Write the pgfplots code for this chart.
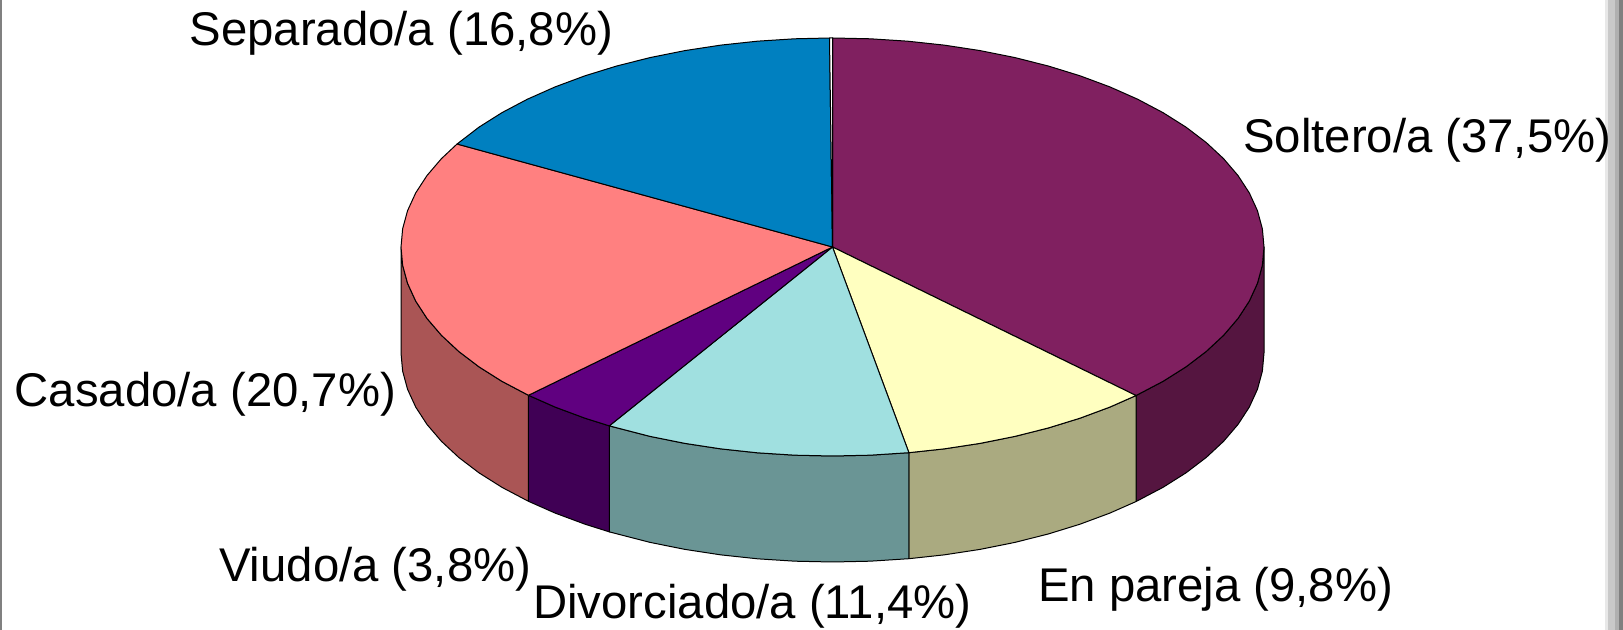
\documentclass[border=0pt]{standalone}
\usepackage{pgfplots}
\pgfplotsset{compat=1.18}
\usepackage{fontspec}
\setmainfont{Liberation Sans}
\definecolor{cSol}{RGB}{128,32,96}
\definecolor{cSolD}{RGB}{85,21,64}
\definecolor{cPar}{RGB}{255,255,192}
\definecolor{cParD}{RGB}{170,170,128}
\definecolor{cDiv}{RGB}{160,224,224}
\definecolor{cDivD}{RGB}{106,149,149}
\definecolor{cViu}{RGB}{96,0,128}
\definecolor{cViuD}{RGB}{64,0,85}
\definecolor{cCas}{RGB}{255,128,128}
\definecolor{cCasD}{RGB}{170,85,85}
\definecolor{cSep}{RGB}{0,128,192}
\newcommand\depth{0.5072}
\newcommand\lbl[3]{\node[anchor=base west,inner sep=0pt,font=\fontsize{47.3}{47.3}\selectfont] at (axis cs:{(#1-832.5)/431.5},{(247-#2)/209}) {#3};}
\newcommand\strip[3]{\fill[#3] (axis cs:{(#1-832.5)/431.5},{247/209}) rectangle (axis cs:{(#2-832.5)/431.5},{(247-630)/209});}
\begin{document}
\begin{tikzpicture}
\begin{axis}[
  scale only axis, width=1623pt, height=630pt,
  xmin=-1.92932, xmax=1.83198, ymin=-1.83254, ymax=1.18182,
  hide axis, clip=false,
  every axis plot/.append style={draw=black, line width=1pt, line join=round}
]
% side faces: x, y on the unit circle, b=1 on the lower rim
\addplot[fill=cSolD] table[x=x, y expr=\thisrow{y}-\depth*\thisrow{b}] {
x y b
1 0 0
.99619 -.08716 0
.98481 -.17365 0
.96593 -.25882 0
.93969 -.34202 0
.90631 -.42262 0
.86603 -.5 0
.81915 -.57358 0
.76604 -.64279 0
.7034 -.7108 0
.7034 -.7108 1
.76604 -.64279 1
.81915 -.57358 1
.86603 -.5 1
.90631 -.42262 1
.93969 -.34202 1
.96593 -.25882 1
.98481 -.17365 1
.99619 -.08716 1
1 0 1
} --cycle;
\addplot[fill=cParD] table[x=x, y expr=\thisrow{y}-\depth*\thisrow{b}] {
x y b
.7034 -.7108 0
.64279 -.76604 0
.57358 -.81915 0
.5 -.86603 0
.42262 -.90631 0
.34202 -.93969 0
.25882 -.96593 0
.1771 -.9842 0
.1771 -.9842 1
.25882 -.96593 1
.34202 -.93969 1
.42262 -.90631 1
.5 -.86603 1
.57358 -.81915 1
.64279 -.76604 1
.7034 -.7108 1
} --cycle;
\addplot[fill=cDivD] table[x=x, y expr=\thisrow{y}-\depth*\thisrow{b}] {
x y b
.1771 -.9842 0
.08716 -.99619 0
0 -1 0
-.08716 -.99619 0
-.17365 -.98481 0
-.25882 -.96593 0
-.34202 -.93969 0
-.42262 -.90631 0
-.5172 -.8559 0
-.5172 -.8559 1
-.42262 -.90631 1
-.34202 -.93969 1
-.25882 -.96593 1
-.17365 -.98481 1
-.08716 -.99619 1
0 -1 1
.08716 -.99619 1
.1771 -.9842 1
} --cycle;
\addplot[fill=cViuD] table[x=x, y expr=\thisrow{y}-\depth*\thisrow{b}] {
x y b
-.5172 -.8559 0
-.57358 -.81915 0
-.64279 -.76604 0
-.7046 -.7096 0
-.7046 -.7096 1
-.64279 -.76604 1
-.57358 -.81915 1
-.5172 -.8559 1
} --cycle;
\addplot[fill=cCasD] table[x=x, y expr=\thisrow{y}-\depth*\thisrow{b}] {
x y b
-.7046 -.7096 0
-.76604 -.64279 0
-.81915 -.57358 0
-.86603 -.5 0
-.90631 -.42262 0
-.93969 -.34202 0
-.96593 -.25882 0
-.98481 -.17365 0
-.99619 -.08716 0
-1 0 0
-1 0 1
-.99619 -.08716 1
-.98481 -.17365 1
-.96593 -.25882 1
-.93969 -.34202 1
-.90631 -.42262 1
-.86603 -.5 1
-.81915 -.57358 1
-.76604 -.64279 1
-.7046 -.7096 1
} --cycle;
% top slices: (angle, radius); angles, matching the shares 37.5, 9.8, 11.4, 3.8, 20.7, 16.8
\addplot[fill=cSol, data cs=polar] coordinates {(0,0) (90,1) (85,1) (80,1) (75,1) (70,1) (65,1) (60,1) (55,1) (50,1) (45,1) (40,1) (35,1) (30,1) (25,1) (20,1) (15,1) (10,1) (5,1) (0,1) (-5,1) (-10,1) (-15,1) (-20,1) (-25,1) (-30,1) (-35,1) (-40,1) (-45.3,1)} --cycle;
\addplot[fill=cPar, data cs=polar] coordinates {(0,0) (-45.3,1) (-50,1) (-55,1) (-60,1) (-65,1) (-70,1) (-75,1) (-79.8,1)} --cycle;
\addplot[fill=cDiv, data cs=polar] coordinates {(0,0) (-79.8,1) (-85,1) (-90,1) (-95,1) (-100,1) (-105,1) (-110,1) (-115,1) (-121.15,1)} --cycle;
\addplot[fill=cViu, data cs=polar] coordinates {(0,0) (-121.15,1) (-125,1) (-130,1) (-134.8,1)} --cycle;
\addplot[fill=cCas, data cs=polar] coordinates {(0,0) (225.2,1) (220,1) (215,1) (210,1) (205,1) (200,1) (195,1) (190,1) (185,1) (180,1) (175,1) (170,1) (165,1) (160,1) (155,1) (150.48,1)} --cycle;
\addplot[fill=cSep, data cs=polar] coordinates {(0,0) (150.48,1) (145,1) (140,1) (135,1) (130,1) (125,1) (120,1) (115,1) (110,1) (105,1) (100,1) (95,1) (90.4,1)} --cycle;
\addplot[fill=white, data cs=polar] coordinates {(0,0) (90.4,1) (90,1)} --cycle;
% window frame
\strip{0}{1.5}{black!50}
\strip{1605}{1608}{black!9}
\strip{1608}{1615}{black!21}
\strip{1615}{1619}{black!31}
\strip{1619}{1623}{black!50}
\lbl{189.5}{46}{Separado/a (16,8\%)}
\lbl{1243}{153}{Soltero/a (37,5\%)}
\lbl{14.5}{407}{Casado/a (20,7\%)}
\lbl{219}{582}{Viudo/a (3,8\%)}
\lbl{533}{619}{Divorciado/a (11,4\%)}
\lbl{1038}{602}{En pareja (9,8\%)}
\end{axis}
\end{tikzpicture}
\end{document}
